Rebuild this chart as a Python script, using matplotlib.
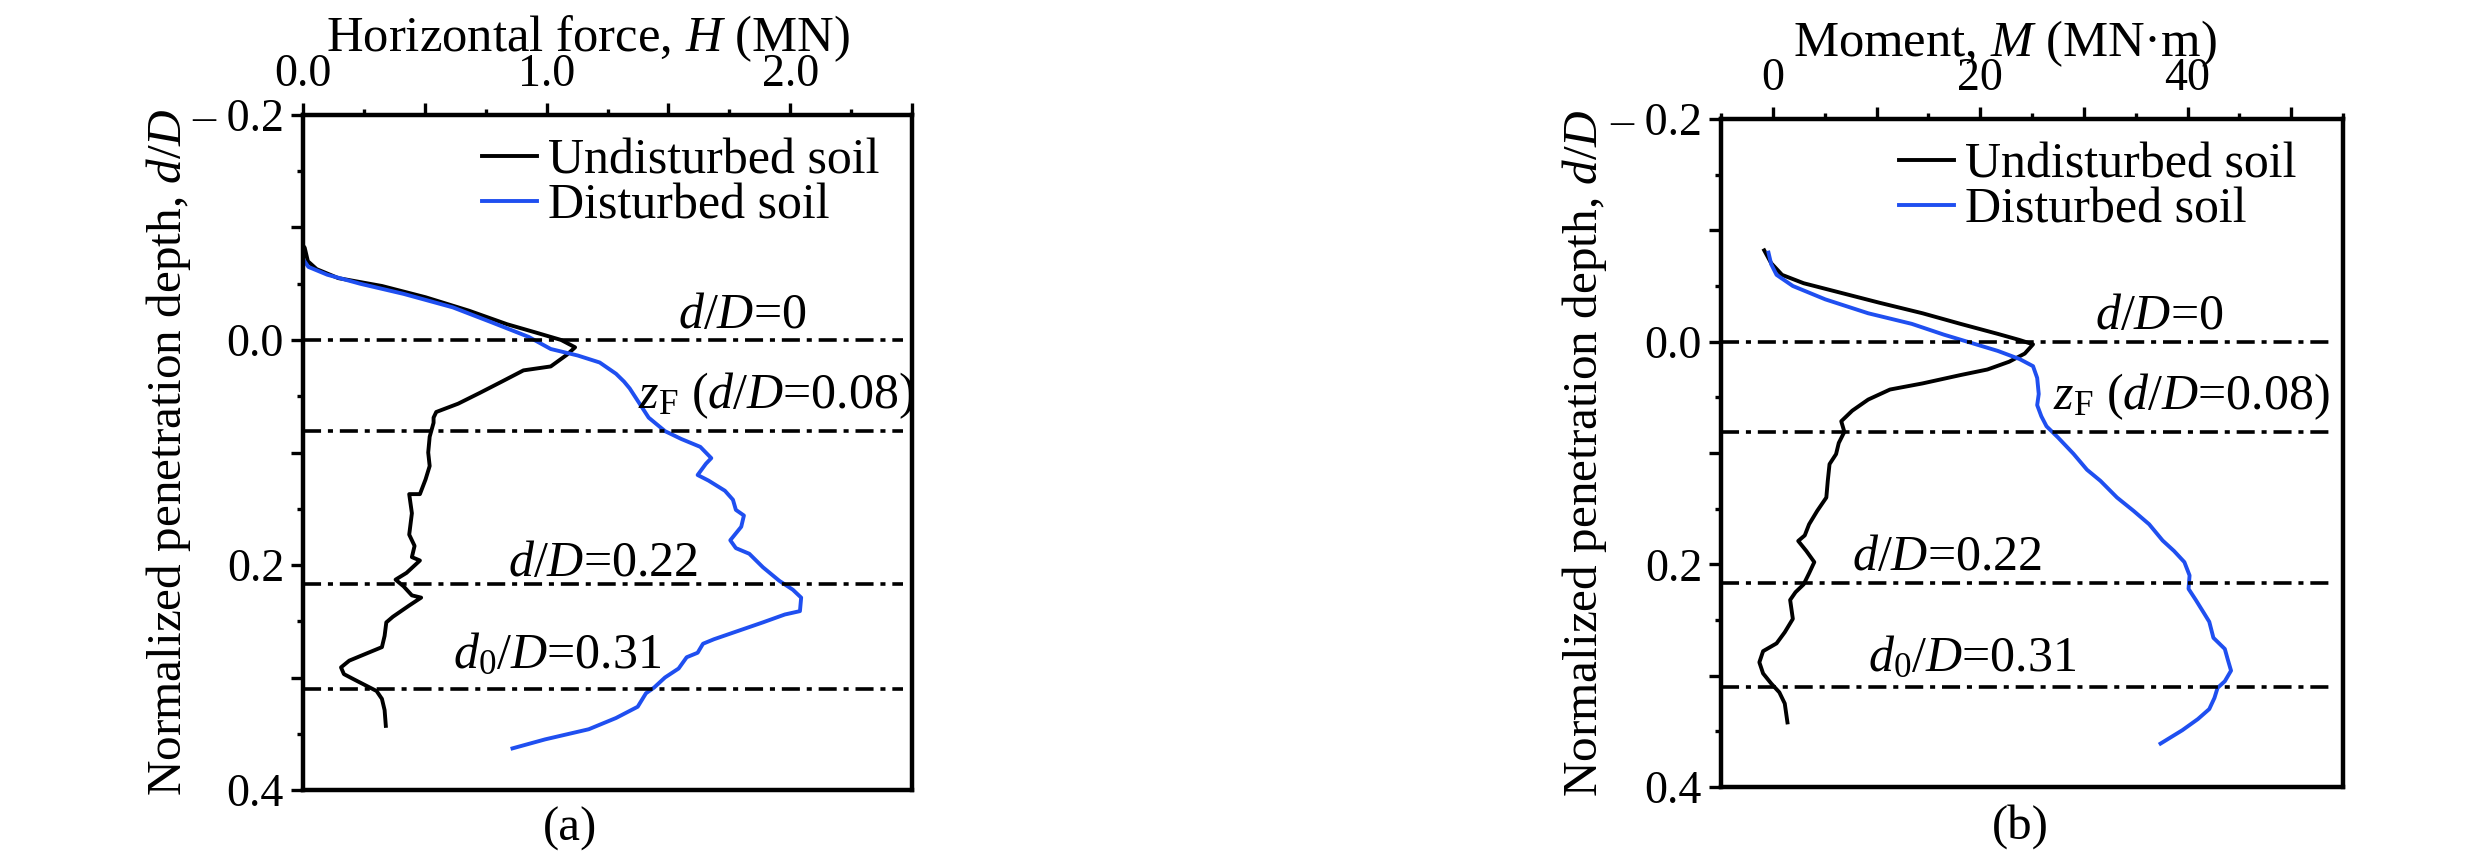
import matplotlib
matplotlib.use('Agg')
import matplotlib.pyplot as plt
from matplotlib.ticker import MultipleLocator, FuncFormatter

plt.rcParams['font.family'] = ['Liberation Serif', 'DejaVu Serif']
plt.rcParams['mathtext.fontset'] = 'custom'
plt.rcParams['mathtext.rm'] = 'Liberation Serif'
plt.rcParams['mathtext.it'] = 'Liberation Serif:italic'

# ---- data ----
# (a) horizontal force H (MN) vs normalized depth d/D
h_und = [0.0, 0.007, 0.02, 0.056, 0.145, 0.324, 0.503, 0.682, 0.838, 0.95, 1.06, 1.117,
         1.084, 1.017, 0.905, 0.816, 0.726, 0.637, 0.547, 0.536, 0.536, 0.52, 0.514, 0.52,
         0.503, 0.48, 0.436, 0.447, 0.436, 0.458, 0.447, 0.48, 0.425, 0.38, 0.413, 0.447,
         0.485, 0.436, 0.369, 0.342, 0.335, 0.324, 0.268, 0.19, 0.156, 0.168, 0.212, 0.257,
         0.302, 0.324, 0.335, 0.34]
d_h_und = [-0.084, -0.082, -0.070, -0.063, -0.055, -0.048, -0.038, -0.026, -0.014, -0.007, 0.0, 0.0065,
           0.013, 0.0235, 0.027, 0.037, 0.047, 0.0566, 0.064, 0.069, 0.0736, 0.086, 0.100, 0.112,
           0.124, 0.137, 0.137, 0.154, 0.173, 0.183, 0.193, 0.196, 0.207, 0.213, 0.219, 0.227,
           0.229, 0.236, 0.246, 0.251, 0.263, 0.273, 0.278, 0.285, 0.291, 0.297, 0.302, 0.307,
           0.312, 0.319, 0.329, 0.343]
h_dis = [0.0, 0.022, 0.10, 0.235, 0.413, 0.615, 0.771, 0.927, 1.017, 1.128, 1.218, 1.285,
         1.318, 1.341, 1.374, 1.419, 1.486, 1.553, 1.631, 1.676, 1.654, 1.62, 1.665, 1.732,
         1.765, 1.777, 1.81, 1.799, 1.754, 1.777, 1.832, 1.888, 1.955, 2.011, 2.045, 2.04,
         1.978, 1.888, 1.754, 1.687, 1.642, 1.62, 1.575, 1.542, 1.486, 1.441, 1.408, 1.374,
         1.285, 1.173, 0.994, 0.86]
d_h_dis = [-0.072, -0.065, -0.058, -0.050, -0.041, -0.029, -0.016, -0.0027, 0.008, 0.0138, 0.020, 0.030,
           0.037, 0.043, 0.054, 0.069, 0.081, 0.088, 0.095, 0.105, 0.110, 0.120, 0.125, 0.134,
           0.142, 0.151, 0.156, 0.166, 0.178, 0.185, 0.190, 0.202, 0.214, 0.222, 0.229, 0.241,
           0.244, 0.251, 0.261, 0.266, 0.270, 0.278, 0.282, 0.292, 0.300, 0.309, 0.314, 0.326,
           0.336, 0.346, 0.355, 0.363]

# (b) moment M (MN·m) vs normalized depth d/D
m_und = [-0.83, -0.16, 0.89, 2.97, 6.1, 10.27, 14.44, 18.1, 21.7, 23.8, 25.1, 24.3,
         22.8, 20.7, 18.1, 14.44, 11.3, 9.2, 7.66, 6.6, 6.9, 6.36, 6.1, 5.47,
         5.3, 5.16, 4.28, 3.5, 3.08, 2.45, 3.23, 4.0, 3.5, 2.97, 2.19, 1.67,
         1.93, 1.15, 0.36, -0.94, -1.3, -0.94, -0.16, 0.63, 1.15, 1.41]
d_m_und = [-0.082, -0.0705, -0.060, -0.0525, -0.045, -0.035, -0.0255, -0.016, -0.007, -0.0015, 0.0024, 0.0107,
           0.018, 0.025, 0.030, 0.0375, 0.043, 0.052, 0.062, 0.0715, 0.081, 0.091, 0.101, 0.110,
           0.125, 0.140, 0.152, 0.164, 0.174, 0.179, 0.188, 0.198, 0.208, 0.218, 0.225, 0.232,
           0.249, 0.261, 0.271, 0.278, 0.288, 0.298, 0.307, 0.315, 0.325, 0.342]
m_dis = [-0.42, -0.16, 0.36, 1.93, 5.06, 9.2, 13.4, 16.5, 19.1, 21.7, 23.8, 25.1,
         25.5, 25.65, 25.5, 25.9, 26.4, 27.5, 29.0, 30.3, 31.6, 33.2, 34.8, 36.3,
         37.6, 38.7, 39.7, 40.2, 40.1, 40.8, 41.6, 42.1, 42.5, 43.6, 43.9, 44.2,
         43.6, 42.9, 42.6, 42.1, 41.0, 39.5, 37.4]
d_m_dis = [-0.080, -0.0696, -0.060, -0.050, -0.038, -0.0255, -0.016, -0.0063, 0.001, 0.0083, 0.0156, 0.022,
           0.0326, 0.047, 0.057, 0.067, 0.076, 0.086, 0.1007, 0.115, 0.125, 0.140, 0.152, 0.164,
           0.1786, 0.188, 0.198, 0.210, 0.222, 0.232, 0.244, 0.2516, 0.266, 0.276, 0.286, 0.2955,
           0.305, 0.311, 0.320, 0.330, 0.339, 0.349, 0.361]

ref_depths = [0.0, 0.081, 0.217, 0.31]
ref_labels = ['$d$/$D$=0', '$z_{\\rm F}$ ($d$/$D$=0.08)', '$d$/$D$=0.22', '$d_0$/$D$=0.31']
ref_pos_h = [(1.54, -0.011), (1.376, 0.061), (0.84, 0.2096), (0.615, 0.292)]
ref_pos_m = [(31.1, -0.011), (27.0, 0.061), (7.66, 0.205), (9.2, 0.296)]

blue = '#1f4ff0'
fs_tick = 33
fs_title = 36.5
fs_ylab = 35.5
fs_text = 36


def y_fmt(v, pos):
    r = round(v, 3)
    if abs(r + 0.2) < 1e-6:
        return '\u2013 0.2'
    if abs(round(r / 0.2) * 0.2 - r) < 1e-6:
        return '%.1f' % abs(r)
    return ''


def style(ax, xlim, xmaj, xmin, xfmt, xlabel, xlab_x, ref_pos, leg_x):
    ax.set_ylim(0.4, -0.2)
    ax.set_xlim(*xlim)
    ax.xaxis.tick_top()
    ax.xaxis.set_label_position('top')
    ax.xaxis.set_major_locator(MultipleLocator(xmaj))
    ax.xaxis.set_minor_locator(MultipleLocator(xmin))
    ax.xaxis.set_major_formatter(FuncFormatter(xfmt))
    ax.yaxis.set_major_locator(MultipleLocator(0.1))
    ax.yaxis.set_minor_locator(MultipleLocator(0.05))
    ax.yaxis.set_major_formatter(FuncFormatter(y_fmt))
    ax.tick_params(which='both', direction='out', width=2.4, labelsize=fs_tick,
                   top=True, bottom=False, left=True, right=False)
    ax.tick_params(which='major', length=8.6, pad=5)
    ax.tick_params(which='minor', length=4.3)
    for s in ax.spines.values():
        s.set_linewidth(3.2)
    ax.set_xlabel(xlabel, fontsize=fs_title)
    ax.xaxis.set_label_coords(xlab_x, 1.094)
    ax.set_ylabel('Normalized penetration depth, $d$/$D$', fontsize=fs_ylab)
    ax.yaxis.set_label_coords(-0.18, 0.5)
    for yv in ref_depths:
        ln = ax.axhline(yv, xmin=0, xmax=0.985, color='k', lw=2.6)
        ln.set_dashes((5.0, 1.9, 1.4, 1.9))
    for (tx, ty), lab in zip(ref_pos, ref_labels):
        ax.text(tx, ty, lab, fontsize=fs_text, ha='left', va='baseline')
    ax.legend(loc='upper left', bbox_to_anchor=(leg_x, 0.966), frameon=False,
              fontsize=fs_text, borderpad=0, borderaxespad=0, handlelength=1.1,
              handletextpad=0.22, labelspacing=-0.03)


fig = plt.figure(figsize=(24.82, 8.55), dpi=100)
ax1 = fig.add_axes([303 / 2482, 1 - 790 / 855, 609 / 2482, 675 / 855])
ax2 = fig.add_axes([1721 / 2482, 1 - 787 / 855, 622 / 2482, 668 / 855])

ax1.plot(h_und, d_h_und, color='k', lw=2.8, label='Undisturbed soil')
ax1.plot(h_dis, d_h_dis, color=blue, lw=2.8, label='Disturbed soil')
ax2.plot(m_und, d_m_und, color='k', lw=2.8, label='Undisturbed soil')
ax2.plot(m_dis, d_m_dis, color=blue, lw=2.8, label='Disturbed soil')

style(ax1, (0, 2.5), 0.5, 0.25,
      lambda v, p: '%.1f' % v if abs(v - round(v)) < 1e-6 else '',
      'Horizontal force, $H$ (MN)', 0.468, ref_pos_h, 0.294)
style(ax2, (-5, 55), 10, 5,
      lambda v, p: '%d' % round(v) if abs(v / 20 - round(v / 20)) < 1e-6 else '',
      'Moment, $M$ (MN\u00b7m)', 0.457, ref_pos_m, 0.286)

fig.text(570 / 2482, 1 - 829 / 855, '(a)', fontsize=35, ha='center', va='center')
fig.text(2020 / 2482, 1 - 827 / 855, '(b)', fontsize=35, ha='center', va='center')

fig.savefig('out.png', dpi=100)
